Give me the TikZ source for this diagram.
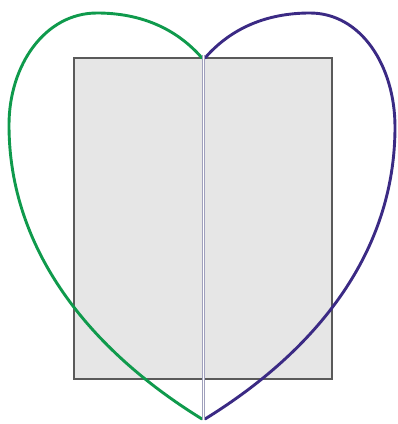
\documentclass[tikz,border=0pt]{standalone}
\definecolor{rectfill}{HTML}{E6E6E6}
\definecolor{rectline}{HTML}{5A5A5A}
\definecolor{heartgreen}{HTML}{0F9A4C}
\definecolor{heartpurple}{HTML}{3B2A84}
\definecolor{splitline}{HTML}{A0A0BC}
\tikzset{
  box/.style={draw=rectline, fill=rectfill, line width=2.6pt},
  lobe/.style={line width=2.9pt, line cap=round},
  split/.style={draw=splitline, line width=1pt, double=white, double distance=1.6pt}
}
\begin{document}
\begin{tikzpicture}[x=1pt,y=-1pt]
\useasboundingbox (0,0) rectangle (398,424);
\draw[box] (74,58) rectangle (332,379);
\coordinate (gs) at (202,58);
\coordinate (gt) at (97,13);
\coordinate (gl) at (9,125);
\coordinate (gb) at (202,419);
\draw[lobe, heartgreen] (gs) .. controls (176,28) and (140,13) .. (gt)
  .. controls (45,13) and (9,65) .. (gl)
  .. controls (9,250) and (90,350) .. (gb);
\coordinate (ps) at (205,58);
\coordinate (pt) at (310,13);
\coordinate (pr) at (395,127);
\coordinate (pb) at (205,419);
\draw[lobe, heartpurple] (ps) .. controls (231,28) and (267,13) .. (pt)
  .. controls (361,13) and (395,66) .. (pr)
  .. controls (395,252) and (317,350) .. (pb);
\coordinate (top) at (203.5,55);
\coordinate (bot) at (203.5,420);
\draw[split] (top) -- (bot);
\end{tikzpicture}
\end{document}
